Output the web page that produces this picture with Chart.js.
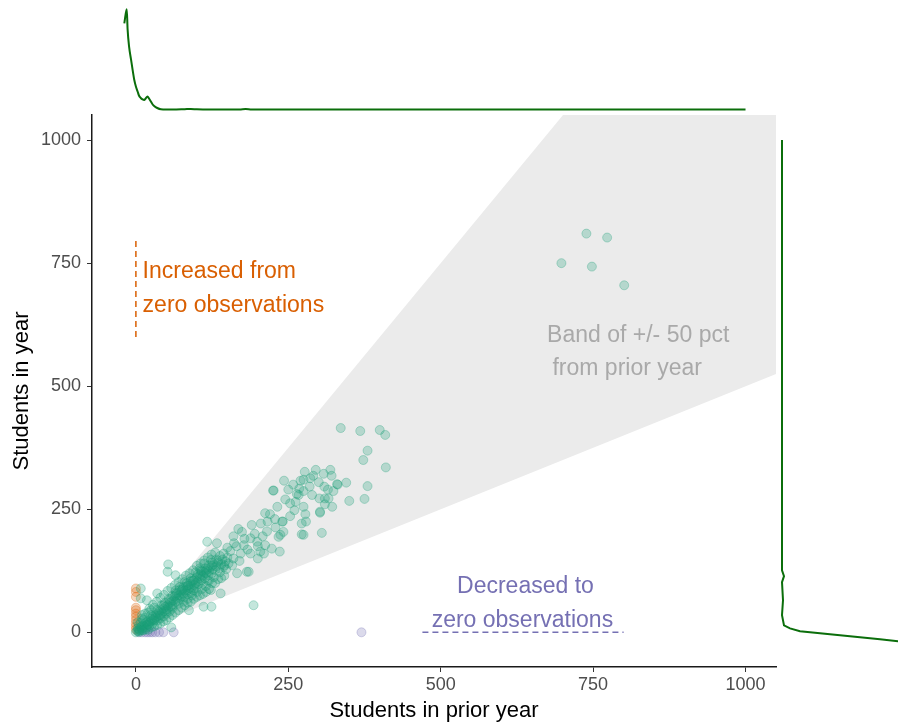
<!DOCTYPE html>
<html>
<head>
<meta charset="utf-8">
<script src="https://cdn.jsdelivr.net/npm/chart.js@4.4.1/dist/chart.umd.min.js"></script>
<style>
  body { margin: 0; background: #fff; }
  #wrap { position: relative; width: 898px; height: 726px; }
  canvas { position: absolute; }
</style>
</head>
<body>
<div id="wrap">
  <canvas id="main" width="898" height="726" style="left:0;top:0"></canvas>
  <canvas id="topDens" width="684" height="115" style="left:92px;top:0"></canvas>
  <canvas id="rightDens" width="122" height="552" style="left:776px;top:115px"></canvas>
</div>
<script>
// students in prior year / students in year, schools with counts in both years
const stableSchools = [
  [0,0],[2,3],[4,2],[5,6],[3,8],[6,4],[8,10],[10,7],[12,14],[9,12],[14,11],[15,18],[18,15],[20,22],[17,20],
  [22,19],[25,28],[24,22],[27,25],[28,32],[30,27],[32,35],[33,30],[35,38],[36,33],[38,42],[40,36],[41,45],
  [43,40],[45,48],[46,43],[48,52],[50,46],[52,55],[53,50],[55,60],[57,53],[58,62],[60,56],[62,65],[5,15],
  [8,20],[12,25],[15,30],[3,20],[10,35],[20,40],[25,45],[30,50],[18,10],[22,13],[28,18],[35,24],[40,28],
  [45,32],[50,38],[55,42],[60,48],[6,1],[12,4],[16,6],
  [63,72],[65,62],[67,78],[68,68],[70,75],[72,70],[74,82],[75,73],[77,88],[78,78],[80,85],[82,80],[83,92],
  [85,86],[86,95],[88,90],[90,98],[91,88],[93,104],[95,96],[96,108],[98,100],[100,112],[101,103],[103,98],
  [105,110],[107,118],[108,106],[110,115],[112,122],[113,110],[115,120],[117,128],[119,116],[120,124],
  [122,132],[124,120],[126,128],[128,138],[130,126],[132,134],[135,142],[137,130],[140,138],[142,148],
  [145,136],[147,144],[150,152],[70,58],[78,62],[85,68],[92,75],[100,82],[108,88],[115,94],[125,100],
  [135,108],[145,115],[65,85],[72,92],[80,102],[90,110],[98,122],[105,130],[112,140],[85,78],[95,85],
  [118,105],[128,112],[138,122],
  [20,5],[25,10],[30,12],[35,15],[40,18],[45,22],[50,25],[55,30],[60,35],[65,40],[70,45],[75,50],[80,55],
  [85,60],[90,62],[95,68],[100,72],[105,75],[110,78],[115,82],[120,88],[10,28],[15,38],[22,48],[28,56],
  [34,62],[40,70],[46,76],[52,84],[58,90],[64,96],[70,102],[76,108],[82,115],[88,120],[94,126],[100,135],
  [106,140],[112,146],[118,152],[124,158],[130,162],[42,55],[48,60],[54,68],[60,74],[66,80],[72,86],
  [78,92],[84,100],[90,104],[96,90],[102,118],[108,124],[114,130],[120,136],[126,142],[132,148],[138,155],
  [144,160],[148,128],[152,140],[140,110],[130,100],[120,105],[110,98],[100,92],[90,80],[80,72],[70,64],
  [60,52],[50,42],[40,34],[30,24],[20,16],[10,4],[25,35],[35,45],[45,55],[55,65],[65,75],[75,85],[85,95],
  [95,105],[105,115],[115,125],[125,135],[135,145],
  [53,138],[52,123],[65,116],[35,79],[18,65],[8,69],[8,89],[87,45],[111,52],[124,52],[58,10],[123,86],
  [139,79],[182,123],[193,55],[117,184],[133,181],[150,172],[161,181],[174,204],[190,218],[205,221],
  [212,242],[216,225],[225,288],[243,308],[188,191],[199,184],[204,164],[188,160],[172,160],[223,170],
  [234,194],[242,204],[240,225],[253,236],[272,199],[279,225],[302,243],[305,202],[253,262],[264,281],
  [275,310],[310,272],[123,147],[106,126],[144,133],[158,136],[185,123],[166,120],[236,164],[212,177],
  [177,177],[226,288],[277,326],[291,318],[308,322],[319,330],[321,318],[270,308],[286,313],[309,296],
  [330,301],[345,304],[275,287],[289,279],[267,279],[301,272],[316,272],[310,260],[322,255],[260,248],
  [275,255],[278,240],[302,245],[241,225],[272,221],[275,198],[229,213],[237,198],[336,415],[368,409],
  [400,411],[409,401],[380,369],[373,350],[410,335],[331,300],[380,297],[324,287],[350,267],[375,271],
  [155,165],[160,150],[165,175],[170,145],[178,190],[183,168],[195,200],[200,175],[208,195],[215,205],
  [220,240],[228,230],[232,255],[245,270],[250,290],[258,300],[262,265],[268,292],[285,296],[295,330],
  [300,305],[315,290],[200,150],[210,160],[160,195],[168,210],
  [698,750],[739,810],[773,802],[748,743],[801,705]
];
// prior year was zero
const increasedFromZero = [[0,89],[0,82],[0,72],[0,50],[0,45],[0,38],[0,32],[0,25],[0,18],[0,12],[0,6]];
// year is zero
const decreasedToZero = [[5,0],[10,0],[15,0],[19,0],[23,0],[27,0],[32,0],[38,0],[45,0],[62,0],[370,0]];

// +/- 50 pct band edges
const bandPrior = [0, 1100];
const bandUpper = [0, 1650];
const bandLower = [0, 550];

// dashed markers for the two labels
const incLineY = [600, 800];
const decLineX = [470, 800];

const xTicks = [0, 250, 500, 750, 1000];
const yTicks = [0, 250, 500, 750, 1000];

// marginal densities (relative height)
const topDensity = [
  [-19,86],[-15,100],[-13.6,80],[-11,62],[-8,50],[-5,38],[-2.8,30],[0,23],[2.8,18],[5,14],[8,11.5],
  [11,10],[13.6,9.5],[16,11],[19,13],[21.5,11],[24.5,8],[27,5.5],[30,3.5],[35,1.5],[41,0.3],[60,0],
  [80,0.3],[90,0.5],[100,0.2],[120,0],[170,0],[180,0.4],[190,0],[300,0],[1000,0]
];
const rightDensity = [
  [0,1000],[0,126],[2,114],[0,102],[1,65],[0,35],[2,14],[8,8],[18,2],[38,-2],[68,-8],[98,-14],[116,-18],[140,-22]
];

const FONT = "'Liberation Sans', Arial, Helvetica, sans-serif";
Chart.defaults.font.family = FONT;

const pts = arr => arr.map(([x, y]) => ({x: x, y: y}));
const pairUp = (xs, ys) => xs.map((x, i) => ({x: x, y: ys[i]}));

const notes = [
  {text: 'Increased from', x: 11, y: 733, color: '#d95f02', align: 'left'},
  {text: 'zero observations', x: 11, y: 664, color: '#d95f02', align: 'left'},
  {text: 'Decreased to', x: 639, y: 92, color: '#7570b3', align: 'center'},
  {text: 'zero observations', x: 634, y: 24, color: '#7570b3', align: 'center'},
  {text: 'Band of +/- 50 pct', x: 824, y: 603, color: '#a9a9a9', align: 'center'},
  {text: 'from prior year', x: 806, y: 536, color: '#a9a9a9', align: 'center'}
];

const notesPlugin = {
  id: 'notes',
  afterDatasetsDraw(chart) {
    const {ctx, scales: {x, y}} = chart;
    ctx.save();
    ctx.font = '23px ' + FONT;
    ctx.textBaseline = 'middle';
    notes.forEach(n => {
      ctx.fillStyle = n.color;
      ctx.textAlign = n.align;
      ctx.fillText(n.text, x.getPixelForValue(n.x), y.getPixelForValue(n.y));
    });
    ctx.restore();
  }
};

function pointSet(data, rgb) {
  return {
    data: pts(data),
    showLine: false,
    pointRadius: 4.5,
    pointBackgroundColor: `rgba(${rgb},0.26)`,
    pointBorderColor: `rgba(${rgb},0.3)`,
    pointBorderWidth: 1,
    order: 1
  };
}

new Chart(document.getElementById('main'), {
  type: 'line',
  data: {
    datasets: [
      {data: pairUp(bandPrior, bandUpper), borderWidth: 0, pointRadius: 0, fill: false, order: 5},
      {data: pairUp(bandPrior, bandLower), borderWidth: 0, pointRadius: 0, fill: '-1',
        backgroundColor: '#ebebeb', order: 5},
      pointSet(stableSchools, '27,158,119'),
      pointSet(increasedFromZero, '217,95,2'),
      pointSet(decreasedToZero, '117,112,179'),
      {data: incLineY.map(v => ({x: 0, y: v})), borderColor: '#d95f02', borderWidth: 1.5,
        borderDash: [6, 4], pointRadius: 0, order: 2},
      {data: decLineX.map(v => ({x: v, y: 0})), borderColor: '#7570b3', borderWidth: 1.5,
        borderDash: [6, 4], pointRadius: 0, order: 2}
    ]
  },
  options: {
    responsive: false,
    animation: false,
    layout: {padding: {top: 115, right: 122, left: 0, bottom: 0}},
    plugins: {legend: {display: false}, tooltip: {enabled: false}},
    scales: {
      x: {
        type: 'linear', min: -72, max: 1050,
        afterBuildTicks: s => { s.ticks = xTicks.map(v => ({value: v})); },
        afterFit: s => { s.height = 59; },
        border: {color: '#1a1a1a', width: 1.5},
        grid: {drawOnChartArea: false, tickLength: 5, tickColor: '#333', tickWidth: 1},
        ticks: {color: '#4d4d4d', font: {size: 18}, padding: 2, maxRotation: 0, callback: v => String(v)},
        title: {display: true, text: 'Students in prior year', color: '#000', font: {size: 22},
          padding: {top: 0, bottom: 2}}
      },
      y: {
        type: 'linear', min: -70.5, max: 1051,
        afterBuildTicks: s => { s.ticks = yTicks.map(v => ({value: v})); },
        afterFit: s => { s.width = 92; },
        border: {color: '#1a1a1a', width: 1.5},
        grid: {drawOnChartArea: false, tickLength: 5, tickColor: '#333', tickWidth: 1},
        ticks: {color: '#4d4d4d', font: {size: 18}, padding: 6, callback: v => String(v)},
        title: {display: true, text: 'Students in year', color: '#000', font: {size: 22},
          padding: {top: 9, bottom: 0}}
      }
    }
  },
  plugins: [notesPlugin]
});

function densityChart(id, data, xRange, yRange, mono) {
  new Chart(document.getElementById(id), {
    type: 'line',
    data: {datasets: [{
      data: pts(data), borderColor: '#0b6e0b', borderWidth: 2, pointRadius: 0, fill: false,
      cubicInterpolationMode: mono ? 'monotone' : 'default', tension: 0
    }]},
    options: {
      responsive: false,
      animation: false,
      layout: {padding: 0},
      plugins: {legend: {display: false}, tooltip: {enabled: false}},
      scales: {
        x: {type: 'linear', display: false, min: xRange[0], max: xRange[1]},
        y: {type: 'linear', display: false, min: yRange[0], max: yRange[1]}
      }
    }
  });
}

densityChart('topDens', topDensity, [-72, 1050], [-5.5, 109.3], true);
densityChart('rightDens', rightDensity, [-6, 116], [-70.5, 1051], false);
</script>
</body>
</html>
